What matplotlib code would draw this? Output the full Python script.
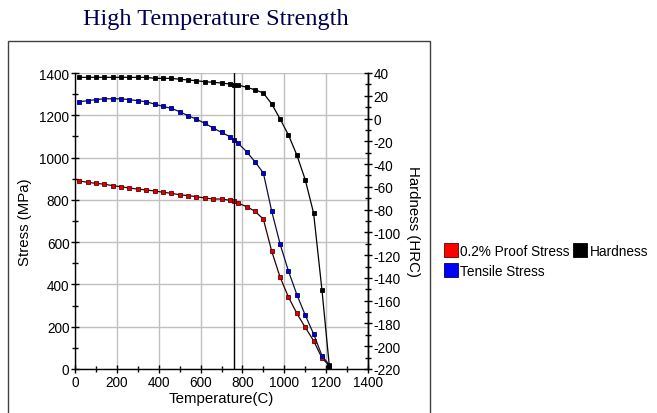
import matplotlib
matplotlib.use("Agg")
import matplotlib.pyplot as plt
from matplotlib.patches import Rectangle
from matplotlib.lines import Line2D
from matplotlib.ticker import MultipleLocator

plt.rcParams['font.family'] = ['Liberation Sans', 'DejaVu Sans']
plt.rcParams['axes.unicode_minus'] = False

temps = [20, 60, 100, 140, 180, 220, 260, 300, 340, 380, 420, 460, 500, 540, 580,
         620, 660, 700, 740, 760, 780, 820, 860, 900, 940, 980, 1020, 1060, 1100,
         1140, 1180, 1215]

proof_stress = [890, 883, 878, 874, 867, 862, 856, 851, 847, 842, 836, 831, 824, 820,
                815, 809, 804, 804, 798, 793, 784, 768, 746, 709, 557, 434, 340, 263,
                197, 134, 52, 16]

tensile_stress = [1264, 1269, 1274, 1278, 1278, 1278, 1274, 1269, 1264, 1253, 1242,
                  1233, 1217, 1198, 1182, 1162, 1140, 1119, 1099, 1085, 1067, 1028,
                  980, 927, 746, 591, 463, 352, 255, 166, 63, 19]

hardness = [36.2, 36.2, 36.2, 36.2, 36.2, 36.2, 36.2, 36.2, 36.2, 35.3, 35.3, 35.3,
            34.5, 33.9, 33.2, 32.4, 31.8, 31.2, 30.3, 29.5, 29.5, 27.4, 25.3, 22.4,
            12.8, -0.4, -14.5, -32, -53.7, -83, -150.6, -217]

cursor_temp = 760
title = "High Temperature Strength"
series_names = ["0.2% Proof Stress", "Tensile Stress", "Hardness"]

W, H = 657, 414
fig = plt.figure(figsize=(W / 100, H / 100), dpi=100)

# outer frame
fig.patches.append(Rectangle((8 / W, -0.05), (430 - 8) / W, 1 - 42 / H + 0.05,
                             transform=fig.transFigure, fill=False,
                             edgecolor='#404040', linewidth=1.0))

ax = fig.add_axes([75 / W, 1 - 370 / H, (368 - 75) / W, (370 - 74) / H])
ax2 = ax.twinx()

ax.set_xlim(0, 1400)
ax.set_ylim(0, 1400)
ax2.set_ylim(-220, 40)

ax.xaxis.set_major_locator(MultipleLocator(200))
ax.xaxis.set_minor_locator(MultipleLocator(100))
ax.yaxis.set_major_locator(MultipleLocator(200))
ax.yaxis.set_minor_locator(MultipleLocator(100))
ax2.yaxis.set_major_locator(MultipleLocator(20))
ax2.yaxis.set_minor_locator(MultipleLocator(10))

ax.grid(True, which='major', color='#c0c0c0', linewidth=1.0)
ax.set_axisbelow(True)

for s in ['top']:
    ax.spines[s].set_visible(False)
    ax2.spines[s].set_visible(False)
ax2.spines['left'].set_visible(False)
ax2.spines['bottom'].set_visible(False)
for a in (ax, ax2):
    for s in a.spines.values():
        s.set_linewidth(1.0)
        s.set_color('black')

ax.tick_params(which='major', direction='inout', length=6, width=1, labelsize=9.8, pad=1)
ax.tick_params(which='minor', direction='inout', length=5, width=1)
ax2.tick_params(which='major', direction='inout', length=6, width=1, labelsize=9.8, pad=1)
ax2.tick_params(which='minor', direction='inout', length=5, width=1)

ax.plot(temps, proof_stress, color='#300000', linewidth=0.9, marker='s',
        markersize=3.4, markerfacecolor='#e00000', markeredgecolor='#600000',
        markeredgewidth=0.6, zorder=3)
ax.plot(temps, tensile_stress, color='#101040', linewidth=0.9, marker='s',
        markersize=3.4, markerfacecolor='#0000e0', markeredgecolor='#000060',
        markeredgewidth=0.6, zorder=3)
ax2.plot(temps, hardness, color='black', linewidth=0.9, marker='s',
         markersize=3.4, markerfacecolor='black', markeredgecolor='black',
         markeredgewidth=0.6, zorder=3)

ax.axvline(cursor_temp, color='black', linewidth=1.0, zorder=4)

ax.set_xlabel("Temperature(C)", fontsize=10.8, labelpad=2)
ax.set_ylabel("Stress (MPa)", fontsize=10.8, labelpad=5)
ax2.set_ylabel("Hardness (HRC)", fontsize=10.8, rotation=-90, labelpad=14)

fig.text(216 / W, 1 - 20 / H, title, ha='center', va='center',
         family=['Liberation Serif', 'DejaVu Serif'], fontsize=17.5, color='#000050')

handles = [
    Line2D([], [], linestyle='none', marker='s', markersize=10,
           markerfacecolor='#ff0000', markeredgecolor='#600000', markeredgewidth=0.6),
    Line2D([], [], linestyle='none', marker='s', markersize=10,
           markerfacecolor='#0000ff', markeredgecolor='#000060', markeredgewidth=0.6),
    Line2D([], [], linestyle='none', marker='s', markersize=10,
           markerfacecolor='black', markeredgecolor='black', markeredgewidth=0.6),
]
fig.legend(handles, series_names, loc='upper left', bbox_to_anchor=(436 / W, 1 - 235 / H),
           ncol=2, frameon=False, fontsize=9.8, handlelength=0.8, handletextpad=0.3,
           columnspacing=0.35, labelspacing=0.45, borderpad=0.2)

fig.savefig("out.png", dpi=100)
